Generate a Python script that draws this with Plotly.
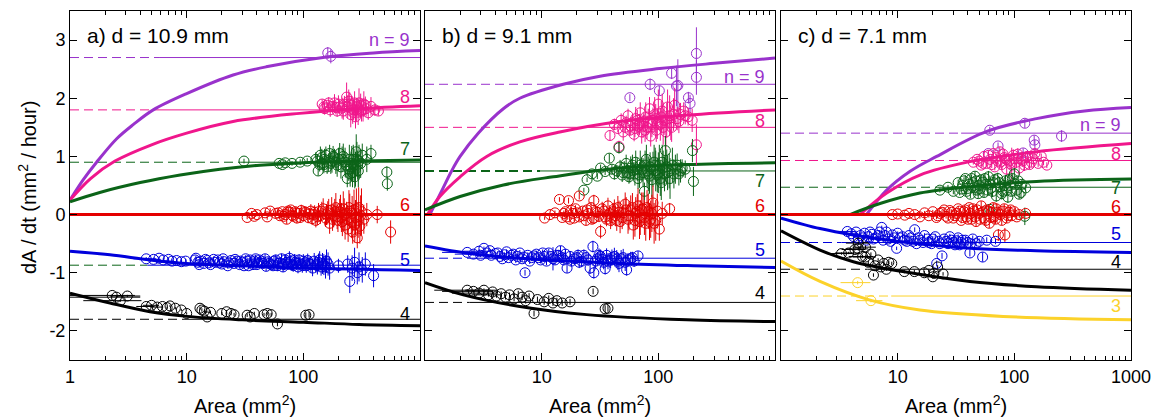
import plotly.graph_objects as go

# ---------------- colours per n ----------------
COL = {9: "#9932cc", 8: "#f0168c", 7: "#0b6418", 6: "#e40000", 5: "#0000dc", 4: "#000000", 3: "#fcd22a"}

# ---------------- fit curves (area, dA/dt) ----------------
F_a9 = [(1, 0.25), (1.3, 0.6), (1.69, 0.9), (2.5, 1.3), (3.5, 1.55), (5.17, 1.80), (10, 2.08), (25, 2.40), (48, 2.54), (158, 2.71), (400, 2.78), (1000, 2.82)]
F_a8 = [(1, 0.25), (1.5, 0.62), (2.43, 0.92), (5, 1.2), (10, 1.40), (25, 1.60), (93, 1.74), (300, 1.82), (1000, 1.87)]
F_a7 = [(1, 0.22), (1.8, 0.38), (4, 0.55), (8.8, 0.68), (19.3, 0.78), (42.5, 0.85), (100, 0.89), (300, 0.92), (1000, 0.94)]
F_a6 = [(1, 0.0), (1000, 0.0)]
F_a5 = [(1, -0.63), (2.2, -0.69), (4.85, -0.78), (10, -0.84), (30, -0.88), (100, -0.92), (1000, -0.96)]
F_a4 = [(1, -1.35), (2.2, -1.52), (4.85, -1.67), (10, -1.75), (30, -1.81), (100, -1.85), (300, -1.89), (1000, -1.91)]

F_b9 = [(1.1, 0.0), (1.4, 0.42), (1.69, 0.75), (2.0, 1.0), (2.86, 1.4), (4.69, 1.82), (6.5, 2.0), (15.3, 2.24), (31.6, 2.38), (103, 2.51), (300, 2.60), (1000, 2.69)]
F_b8 = [(1.05, 0.0), (1.34, 0.31), (2.0, 0.65), (3.38, 1.0), (6.5, 1.25), (14.3, 1.42), (46.7, 1.60), (176, 1.71), (1000, 1.80)]
F_b7 = [(1, 0.08), (2, 0.31), (4.7, 0.51), (12.6, 0.65), (46.7, 0.80), (176, 0.86), (1000, 0.89)]
F_b6 = [(1, 0.0), (1000, 0.0)]
F_b5 = [(1, -0.54), (2.43, -0.67), (6.5, -0.75), (46.7, -0.84), (200, -0.88), (1000, -0.91)]
F_b4 = [(1, -1.17), (2.13, -1.38), (6.5, -1.58), (24.3, -1.72), (176, -1.81), (1000, -1.84)]

F_c9 = [(5.4, 0.0), (8.05, 0.42), (12.7, 0.74), (21.6, 1.0), (58, 1.43), (155, 1.65), (400, 1.78), (1000, 1.84)]
F_c8 = [(4.75, 0.0), (8.05, 0.37), (15.5, 0.68), (41.6, 0.91), (155, 1.08), (1000, 1.22)]
F_c7 = [(3.9, 0.0), (7.06, 0.19), (15.5, 0.37), (41.6, 0.48), (155, 0.57), (1000, 0.61)]
F_c6 = [(1, 0.0), (1000, 0.0)]
F_c5 = [(1, -0.06), (2.16, -0.24), (4.17, -0.35), (11.1, -0.47), (41.6, -0.58), (155, -0.62), (1000, -0.65)]
F_c4 = [(1, -0.28), (2.16, -0.61), (4.17, -0.81), (11.1, -0.98), (41.6, -1.15), (155, -1.24), (1000, -1.30)]
F_c3 = [(1, -0.80), (2.16, -1.15), (5.8, -1.47), (15.5, -1.64), (80, -1.75), (1000, -1.81)]

# ---------------- reference levels: (n, level, area where dashed part ends) ----------------
L_a = [(9, 2.70, 5.9), (8, 1.80, 5.9), (7, 0.90, 29), (5, -0.87, 4.6), (4, -1.80, 9.5)]
L_b = [(9, 2.24, 9.5), (8, 1.50, 9.5), (7, 0.75, 9.7), (5, -0.75, 2.5), (4, -1.51, 2.4)]
L_c = [(9, 1.40, 35), (8, 0.93, 40), (7, 0.47, 22), (5, -0.48, 3.3), (4, -0.94, 5.5), (3, -1.40, 8.8)]

# ---------------- measured points: (area, dA/dt, error) ----------------
P_a9 = [(162, 2.78, 0.1), (172, 2.72, 0.12)]
P_a8 = [(145, 1.90, 0.08), (152, 1.82, 0.10), (160, 1.88, 0.06), (170, 1.80, 0.12), (178, 1.86, 0.09), (185, 1.92, 0.15),
        (195, 1.78, 0.10), (205, 1.85, 0.12), (215, 1.83, 0.18), (225, 1.90, 0.14), (235, 2.02, 0.25), (245, 1.95, 0.20),
        (255, 1.72, 0.22), (262, 1.88, 0.16), (270, 1.80, 0.18), (280, 1.68, 0.20), (290, 1.85, 0.15), (300, 1.92, 0.25),
        (315, 1.78, 0.18), (330, 1.90, 0.22), (345, 1.82, 0.14), (360, 1.75, 0.12), (380, 1.86, 0.16), (410, 1.80, 0.10), (440, 1.78, 0.08),
        (150, 1.85, 0.1), (165, 1.92, 0.1), (190, 1.84, 0.12), (200, 1.9, 0.15), (220, 1.78, 0.15), (240, 1.85, 0.2), (250, 1.9, 0.2),
        (265, 1.76, 0.2), (275, 1.92, 0.2), (285, 1.8, 0.2), (295, 1.76, 0.22), (310, 1.88, 0.2), (325, 1.8, 0.2), (340, 1.88, 0.15)]
P_a7 = [(31, 0.92, 0.04), (62, 0.88, 0.03), (66, 0.86, 0.04), (70, 0.89, 0.04), (80, 0.88, 0.04), (94, 0.90, 0.05), (108, 0.92, 0.05),
        (128, 0.95, 0.12), (134, 0.75, 0.08), (140, 1.02, 0.15), (146, 0.88, 0.12), (152, 0.95, 0.18), (160, 0.82, 0.12), (168, 1.05, 0.15),
        (176, 0.92, 0.2), (185, 0.98, 0.15), (195, 0.85, 0.2), (205, 1.05, 0.18), (215, 0.95, 0.22), (228, 0.9, 0.25), (238, 0.62, 0.15),
        (245, 0.78, 0.2), (252, 0.7, 0.22), (260, 0.88, 0.3), (268, 0.95, 0.25), (276, 0.65, 0.2), (284, 1.08, 0.3), (292, 0.85, 0.25),
        (300, 0.92, 0.28), (320, 1.02, 0.2), (350, 0.95, 0.22), (380, 1.05, 0.15), (520, 0.73, 0.1), (525, 0.53, 0.12),
        (132, 0.92, 0.12), (138, 0.86, 0.12), (144, 0.98, 0.15), (150, 0.86, 0.15), (156, 1.02, 0.15), (164, 0.9, 0.15),
        (172, 0.88, 0.18), (180, 1.0, 0.18), (190, 0.9, 0.2), (200, 0.95, 0.2), (210, 0.82, 0.2), (220, 1.0, 0.22), (232, 0.85, 0.22),
        (248, 0.95, 0.25), (256, 0.82, 0.25), (264, 0.72, 0.25), (272, 0.85, 0.28), (280, 0.78, 0.3), (288, 0.95, 0.3),
        (296, 0.75, 0.28), (310, 0.88, 0.25)]
P_a6 = [(33, -0.05, 0.03), (36, 0.02, 0.04), (38, -0.03, 0.04), (40, 0.0, 0.03), (47, 0.03, 0.04), (49, -0.04, 0.05), (52, 0.06, 0.05),
        (58, 0.02, 0.05), (63, -0.02, 0.06), (66, 0.05, 0.04), (70, 0.0, 0.06), (72, -0.08, 0.08), (75, 0.04, 0.07), (78, 0.08, 0.06),
        (82, -0.03, 0.08), (85, 0.05, 0.07), (88, -0.06, 0.09), (92, 0.02, 0.08), (96, 0.07, 0.1), (100, -0.02, 0.09), (105, 0.04, 0.08),
        (110, -0.05, 0.1), (116, 0.06, 0.12), (122, 0.0, 0.1), (128, -0.1, 0.12), (135, 0.05, 0.15), (140, -0.02, 0.14), (148, 0.1, 0.18),
        (155, -0.06, 0.15), (162, 0.03, 0.2), (168, -0.15, 0.18), (175, 0.08, 0.22), (182, -0.02, 0.2), (190, 0.12, 0.25), (198, -0.1, 0.2),
        (205, 0.05, 0.22), (212, -0.05, 0.25), (220, 0.1, 0.3), (228, -0.18, 0.25), (235, 0.02, 0.2), (242, -0.25, 0.22), (250, 0.06, 0.3),
        (258, -0.12, 0.28), (265, -0.3, 0.2), (272, 0.08, 0.35), (280, -0.05, 0.3), (290, -0.4, 0.18), (298, 0.12, 0.35), (305, -0.2, 0.3),
        (315, 0.05, 0.4), (330, -0.08, 0.25), (350, 0.0, 0.2), (430, 0.0, 0.15), (560, -0.3, 0.2),
        (61, 0.03, 0.05), (68, -0.03, 0.06), (74, 0.06, 0.07), (80, -0.01, 0.07), (87, 0.03, 0.08), (94, -0.05, 0.09), (102, 0.05, 0.09),
        (113, 0.01, 0.1), (119, -0.07, 0.11), (125, 0.04, 0.12), (132, -0.04, 0.14), (144, 0.06, 0.16), (158, 0.0, 0.18), (165, 0.07, 0.2),
        (178, -0.08, 0.2), (186, 0.05, 0.22), (195, -0.03, 0.22), (208, 0.09, 0.25), (216, -0.12, 0.25), (224, 0.0, 0.28),
        (238, -0.08, 0.25), (246, 0.12, 0.3), (262, 0.02, 0.3), (276, -0.18, 0.3), (285, 0.1, 0.35), (295, -0.1, 0.3), (310, -0.02, 0.35)]
P_a5 = [(4.5, -0.76, 0.03), (5.2, -0.77, 0.03), (5.8, -0.75, 0.03), (6.3, -0.78, 0.03), (7.0, -0.77, 0.03), (7.5, -0.8, 0.03),
        (8.2, -0.79, 0.03), (9.0, -0.81, 0.03), (9.8, -0.8, 0.04), (11.8, -0.78, 0.04), (12.5, -0.82, 0.04), (13.2, -0.8, 0.04),
        (14, -0.84, 0.04), (15, -0.79, 0.04), (16, -0.86, 0.04), (17.5, -0.82, 0.05), (18.5, -0.78, 0.05), (20, -0.85, 0.05),
        (21, -0.81, 0.05), (22.5, -0.88, 0.05), (24, -0.79, 0.05), (25.5, -0.84, 0.05), (27, -0.8, 0.06), (28.5, -0.86, 0.06),
        (30, -0.82, 0.06), (32, -0.76, 0.06), (34, -0.88, 0.06), (36, -0.83, 0.06), (38, -0.8, 0.07), (40, -0.86, 0.07), (42, -0.78, 0.07),
        (45, -0.84, 0.07), (48, -0.89, 0.08), (50, -0.81, 0.08), (53, -0.86, 0.08), (56, -0.8, 0.08), (60, -0.88, 0.09), (63, -0.83, 0.09),
        (67, -0.9, 0.09), (70, -0.78, 0.1), (74, -0.85, 0.1), (78, -0.81, 0.12), (82, -0.88, 0.1), (86, -0.82, 0.1), (90, -0.9, 0.11),
        (95, -0.85, 0.1), (100, -0.8, 0.12), (106, -0.88, 0.12), (112, -0.84, 0.12), (120, -0.92, 0.14), (128, -0.86, 0.14),
        (135, -0.82, 0.15), (142, -0.9, 0.15), (150, -0.86, 0.18), (158, -0.8, 0.2), (168, -0.92, 0.2), (200, -0.88, 0.12),
        (240, -0.85, 0.15), (250, -1.15, 0.2), (262, -0.92, 0.22), (275, -0.82, 0.25), (290, -1.0, 0.2), (300, -0.9, 0.25),
        (320, -0.95, 0.22), (340, -0.85, 0.2), (400, -1.05, 0.2),
        (12, -0.75, 0.04), (12.8, -0.86, 0.04), (14.5, -0.77, 0.04), (15.5, -0.83, 0.04), (17, -0.77, 0.05), (19, -0.83, 0.05),
        (20.5, -0.76, 0.05), (23, -0.83, 0.05), (26, -0.77, 0.05), (29, -0.8, 0.06), (31, -0.88, 0.06), (33, -0.8, 0.06),
        (35, -0.78, 0.06), (37, -0.86, 0.07), (39, -0.76, 0.07), (41, -0.83, 0.07), (44, -0.8, 0.07), (47, -0.76, 0.08),
        (51, -0.84, 0.08), (55, -0.88, 0.08), (58, -0.78, 0.09), (61, -0.84, 0.09), (65, -0.76, 0.09), (68, -0.86, 0.1),
        (72, -0.82, 0.1), (76, -0.75, 0.12), (80, -0.86, 0.1), (84, -0.78, 0.1), (88, -0.84, 0.1), (92, -0.78, 0.1),
        (98, -0.88, 0.12), (103, -0.83, 0.12), (109, -0.79, 0.12), (116, -0.86, 0.14), (124, -0.8, 0.14), (132, -0.88, 0.15),
        (138, -0.78, 0.15), (146, -0.84, 0.18), (155, -0.9, 0.2), (163, -0.85, 0.2)]
X_a5 = [1.0, 0.8]
P_a4 = [(2.3, -1.39, 0.02), (2.5, -1.42, 0.02), (2.7, -1.48, 0.02), (3.1, -1.40, 0.02), (4.5, -1.58, 0.02), (5.0, -1.56, 0.02),
        (5.6, -1.59, 0.02), (6.2, -1.58, 0.02), (6.8, -1.60, 0.02), (7.2, -1.57, 0.02), (8.0, -1.61, 0.02), (9.0, -1.64, 0.02),
        (10, -1.70, 0.02), (13, -1.61, 0.03), (13.5, -1.64, 0.03), (14.2, -1.66, 0.03), (15, -1.76, 0.03), (16, -1.68, 0.03),
        (20, -1.70, 0.03), (22, -1.67, 0.03), (24, -1.70, 0.03), (25.5, -1.72, 0.03), (33, -1.73, 0.03), (35, -1.76, 0.03),
        (38, -1.70, 0.03), (46, -1.72, 0.03), (49, -1.70, 0.03), (53, -1.72, 0.03), (60, -1.88, 0.04), (105, -1.73, 0.05), (112, -1.72, 0.05)]
X_a4 = [1.3, 1.5, 1.4, 0.9, 0.8, 0.8, 0.7]

P_b9 = [(57, 2.01, 0.06), (85, 2.24, 0.1), (102, 2.13, 0.08), (130, 2.43, 0.1), (143, 2.21, 0.35), (147, 2.22, 0.45),
        (181, 2.01, 0.1), (187, 1.91, 0.15), (212, 2.77, 0.45), (212, 2.36, 0.3)]
P_b8 = [(38.5, 1.36, 0.08), (42, 1.55, 0.1), (45, 1.48, 0.06), (46, 1.17, 0.1), (48, 1.62, 0.12), (50, 1.42, 0.15), (52, 1.5, 0.1),
        (55, 1.7, 0.12), (57, 1.45, 0.08), (60, 1.58, 0.15), (62, 1.38, 0.12), (64, 1.65, 0.2), (67, 1.52, 0.15), (70, 1.75, 0.18),
        (72, 1.42, 0.2), (75, 1.6, 0.15), (78, 1.68, 0.25), (80, 1.5, 0.2), (84, 1.82, 0.2), (86, 1.35, 0.18), (90, 1.62, 0.22),
        (93, 1.72, 0.3), (96, 1.45, 0.2), (100, 1.9, 0.25), (104, 1.55, 0.28), (108, 1.78, 0.3), (112, 1.62, 0.25), (116, 1.42, 0.3),
        (120, 1.85, 0.3), (125, 1.7, 0.35), (130, 1.5, 0.25), (138, 1.88, 0.3), (145, 1.65, 0.2), (155, 1.72, 0.2), (165, 1.78, 0.15),
        (180, 1.68, 0.15), (195, 1.62, 0.2), (212, 1.2, 0.35),
        (53, 1.58, 0.12), (58, 1.52, 0.15), (63, 1.48, 0.15), (66, 1.62, 0.18), (69, 1.55, 0.18), (74, 1.52, 0.2), (77, 1.45, 0.2),
        (82, 1.6, 0.22), (88, 1.55, 0.22), (95, 1.65, 0.25), (98, 1.55, 0.25), (106, 1.68, 0.28), (110, 1.5, 0.3), (118, 1.62, 0.3),
        (128, 1.58, 0.3), (135, 1.72, 0.28), (150, 1.6, 0.2), (170, 1.7, 0.15)]
P_b7 = [(23, 0.42, 0.04), (24.5, 0.6, 0.04), (27, 0.7, 0.05), (30, 0.66, 0.05), (32, 0.8, 0.06), (35, 0.74, 0.06), (38, 0.97, 0.08),
        (40, 0.78, 0.08), (42, 0.7, 0.1), (46, 1.15, 0.1), (47, 0.82, 0.12), (50, 0.72, 0.1), (53, 0.88, 0.15), (56, 0.65, 0.12),
        (58, 0.8, 0.2), (61, 0.75, 0.15), (64, 0.9, 0.2), (67, 0.62, 0.18), (70, 0.85, 0.25), (72, 0.78, 0.2), (76, 0.4, 0.15),
        (79, 0.95, 0.25), (82, 0.7, 0.3), (85, 0.82, 0.25), (88, 0.6, 0.3), (92, 0.9, 0.3), (95, 0.75, 0.35), (98, 0.68, 0.3),
        (102, 0.85, 0.35), (106, 0.55, 0.3), (110, 0.8, 0.3), (115, 1.1, 0.25), (120, 0.72, 0.3), (126, 0.62, 0.35), (132, 0.85, 0.3),
        (140, 0.78, 0.25), (150, 0.7, 0.2), (160, 0.8, 0.15), (196, 1.1, 0.2), (200, 0.57, 0.25),
        (44, 0.75, 0.1), (49, 0.68, 0.12), (51, 0.8, 0.12), (54, 0.72, 0.14), (57, 0.7, 0.15), (60, 0.85, 0.18), (63, 0.7, 0.2),
        (66, 0.78, 0.2), (69, 0.68, 0.22), (74, 0.72, 0.25), (77, 0.85, 0.25), (80, 0.75, 0.28), (84, 0.66, 0.3), (90, 0.78, 0.3),
        (94, 0.85, 0.3), (100, 0.72, 0.35), (104, 0.62, 0.3), (108, 0.9, 0.3), (113, 0.7, 0.3), (118, 0.82, 0.3), (124, 0.75, 0.3),
        (136, 0.7, 0.25), (145, 0.85, 0.2), (155, 0.75, 0.2), (170, 0.78, 0.15)]
P_b6 = [(10.6, -0.06, 0.03), (11.8, 0.0, 0.03), (13, 0.03, 0.04), (14.2, 0.26, 0.04), (15, -0.05, 0.05), (16, 0.05, 0.05),
        (17, 0.24, 0.05), (17.5, -0.08, 0.06), (18.5, 0.02, 0.06), (19.5, 0.1, 0.06), (21, 0.32, 0.06), (21, -0.04, 0.07),
        (22.5, 0.06, 0.07), (24, -0.1, 0.08), (25, 0.02, 0.08), (26.5, 0.12, 0.08), (28, 0.24, 0.1), (28, -0.06, 0.1), (30, 0.04, 0.1),
        (32, -0.29, 0.12), (33, 0.1, 0.12), (35, -0.04, 0.12), (37, 0.15, 0.14), (39, -0.1, 0.15), (41, 0.05, 0.15), (43, -0.02, 0.18),
        (45, 0.12, 0.2), (47, -0.12, 0.2), (50, 0.03, 0.22), (52, 0.18, 0.2), (55, -0.08, 0.25), (58, 0.08, 0.25), (61, -0.18, 0.25),
        (64, 0.02, 0.28), (67, 0.15, 0.3), (70, -0.05, 0.3), (74, 0.1, 0.28), (78, -0.15, 0.3), (82, 0.05, 0.3), (86, -0.08, 0.32),
        (90, 0.2, 0.3), (95, -0.1, 0.35), (102, -0.25, 0.2), (108, 0.02, 0.2), (125, 0.1, 0.1),
        (15.5, 0.02, 0.05), (16.5, -0.04, 0.05), (18, 0.07, 0.06), (19, -0.06, 0.06), (20, 0.03, 0.07), (23, -0.02, 0.07),
        (24.5, 0.08, 0.08), (27, -0.08, 0.08), (29, 0.05, 0.1), (31, -0.03, 0.1), (34, 0.06, 0.12), (36, -0.08, 0.12), (38, 0.02, 0.14),
        (40, -0.05, 0.15), (42, 0.1, 0.16), (44, -0.1, 0.18), (46, 0.04, 0.2), (49, -0.05, 0.2), (53, 0.08, 0.22), (56, -0.02, 0.25),
        (60, 0.12, 0.25), (63, -0.1, 0.28), (66, 0.05, 0.3), (69, -0.12, 0.3), (72, 0.08, 0.3), (76, -0.05, 0.3), (80, 0.12, 0.3),
        (84, -0.12, 0.32), (88, 0.02, 0.32), (92, -0.15, 0.35), (98, 0.06, 0.3)]
P_b5 = [(2.3, -0.65, 0.02), (2.6, -0.68, 0.02), (2.9, -0.63, 0.03), (3.2, -0.58, 0.03), (3.4, -0.66, 0.03), (3.7, -0.70, 0.03),
        (4.0, -0.67, 0.03), (4.4, -0.72, 0.04), (4.8, -0.69, 0.04), (5.2, -0.74, 0.04), (5.7, -0.68, 0.04), (6.2, -0.72, 0.05),
        (6.8, -0.76, 0.05), (7.2, -1.0, 0.05), (7.6, -0.70, 0.05), (8.2, -0.74, 0.06), (9.0, -0.68, 0.06), (9.8, -0.78, 0.06),
        (10.5, -0.72, 0.06), (11.5, -0.66, 0.07), (12.5, -0.76, 0.2), (13.5, -0.70, 0.07), (14.5, -0.62, 0.08), (15.5, -0.78, 0.08),
        (16.5, -0.92, 0.08), (17.5, -0.72, 0.08), (19, -0.76, 0.09), (20.5, -0.70, 0.1), (22, -0.80, 0.1), (24, -0.74, 0.1),
        (26, -0.92, 0.1), (27.5, -0.55, 0.1), (28, -1.0, 0.1), (30, -0.76, 0.12), (32, -0.72, 0.12), (34, -0.82, 0.12),
        (35, -0.93, 0.1), (36, -0.7, 0.12), (39, -0.78, 0.14), (42, -0.72, 0.15), (45, -0.8, 0.15), (48, -0.76, 0.15),
        (52, -0.82, 0.15), (53.5, -0.95, 0.1), (58, -0.76, 0.12), (62, -0.8, 0.1), (67, -0.71, 0.08),
        (3.0, -0.7, 0.03), (3.6, -0.62, 0.03), (4.2, -0.66, 0.03), (4.6, -0.76, 0.04), (5.0, -0.64, 0.04), (5.5, -0.7, 0.04),
        (6.0, -0.78, 0.05), (6.5, -0.66, 0.05), (7.0, -0.73, 0.05), (7.9, -0.8, 0.05), (8.6, -0.71, 0.06), (9.4, -0.74, 0.06),
        (10.2, -0.66, 0.06), (11, -0.8, 0.07), (12, -0.72, 0.07), (13, -0.78, 0.08), (14, -0.7, 0.08), (15, -0.74, 0.08),
        (16, -0.68, 0.08), (18, -0.8, 0.09), (20, -0.74, 0.1), (21, -0.82, 0.1), (23, -0.7, 0.1), (25, -0.78, 0.1), (29, -0.8, 0.12),
        (31, -0.7, 0.12), (33, -0.77, 0.12), (37, -0.8, 0.14), (40, -0.74, 0.14), (44, -0.76, 0.15), (46, -0.84, 0.15),
        (50, -0.74, 0.15), (55, -0.78, 0.12), (60, -0.74, 0.1)]
X_b5 = [0.9, 0.8, 0.8]
P_b4 = [(2.3, -1.3, 0.02), (2.6, -1.32, 0.02), (2.9, -1.35, 0.03), (3.2, -1.3, 0.03), (3.5, -1.38, 0.03), (3.8, -1.33, 0.03),
        (4.1, -1.4, 0.03), (4.5, -1.36, 0.04), (4.9, -1.42, 0.04), (5.3, -1.38, 0.04), (5.8, -1.45, 0.04), (6.3, -1.36, 0.05),
        (6.8, -1.42, 0.05), (7.3, -1.48, 0.05), (7.8, -1.4, 0.05), (8.6, -1.7, 0.05), (9.2, -1.46, 0.05), (10.5, -1.5, 0.05),
        (11.5, -1.44, 0.05), (12.5, -1.52, 0.05), (13.5, -1.48, 0.05), (15, -1.52, 0.05), (17.5, -1.5, 0.05), (27.6, -1.32, 0.05),
        (35, -1.62, 0.06), (37, -1.61, 0.06)]
X_b4 = [1.1, 1.2, 1.2, 1.0, 1.0]

P_c9 = [(59.8, 1.05, 0.06), (61.6, 1.45, 0.06), (72.5, 1.18, 0.06), (119, 1.06, 0.08), (123, 1.57, 0.08), (148, 1.28, 0.08),
        (150, 1.2, 0.08), (254, 1.35, 0.1)]
P_c8 = [(44.5, 0.9, 0.04), (48, 0.95, 0.05), (52, 0.85, 0.05), (55, 1.0, 0.06), (58, 0.88, 0.05), (62, 0.95, 0.06), (66, 1.05, 0.07),
        (68, 0.82, 0.06), (72, 0.92, 0.07), (75, 1.08, 0.08), (78, 0.86, 0.08), (82, 0.98, 0.08), (86, 0.78, 0.1), (90, 0.92, 0.1),
        (95, 0.85, 0.3), (98, 1.02, 0.1), (104, 0.9, 0.1), (110, 0.8, 0.12), (115, 0.95, 0.1), (122, 0.85, 0.1), (130, 1.0, 0.1),
        (140, 0.9, 0.08), (150, 1.05, 0.08), (160, 0.88, 0.06), (178, 0.9, 0.05), (190, 0.85, 0.05),
        (50, 0.92, 0.05), (54, 0.88, 0.05), (60, 1.02, 0.06), (64, 0.86, 0.06), (70, 0.98, 0.07), (76, 0.9, 0.08), (80, 1.04, 0.08),
        (85, 0.95, 0.1), (92, 0.88, 0.1), (100, 0.96, 0.1), (107, 1.04, 0.1), (118, 0.92, 0.1), (125, 0.98, 0.1), (135, 0.86, 0.08),
        (145, 0.96, 0.08), (170, 1.0, 0.05)]
P_c7 = [(23, 0.42, 0.04), (27, 0.47, 0.04), (30, 0.4, 0.05), (33, 0.55, 0.05), (34, 0.38, 0.05), (36, 0.5, 0.06), (38, 0.62, 0.06),
        (40, 0.45, 0.06), (42, 0.35, 0.07), (44, 0.55, 0.07), (46, 0.66, 0.08), (48, 0.42, 0.08), (50, 0.5, 0.08), (52, 0.6, 0.08),
        (55, 0.38, 0.08), (57, 0.52, 0.08), (60, 0.65, 0.1), (61.6, 0.09, 0.05), (63, 0.45, 0.1), (66, 0.55, 0.1), (70, 0.32, 0.1),
        (72, 0.62, 0.1), (76, 0.48, 0.1), (80, 0.4, 0.1), (84, 0.58, 0.1), (88, 0.3, 0.1), (92, 0.5, 0.1), (96, 0.62, 0.08),
        (100, 0.7, 0.1), (105, 0.42, 0.08), (110, 0.35, 0.08), (116, 0.52, 0.08), (123, -0.03, 0.15), (125, 0.46, 0.06),
        (35, 0.44, 0.05), (37, 0.58, 0.06), (39, 0.4, 0.06), (41, 0.52, 0.06), (43, 0.62, 0.07), (45, 0.46, 0.07), (47, 0.58, 0.08),
        (49, 0.36, 0.08), (51, 0.44, 0.08), (54, 0.56, 0.08), (56, 0.62, 0.08), (59, 0.42, 0.1), (62, 0.52, 0.1), (65, 0.4, 0.1),
        (68, 0.6, 0.1), (74, 0.55, 0.1), (78, 0.36, 0.1), (82, 0.5, 0.1), (86, 0.42, 0.1), (90, 0.6, 0.1), (94, 0.4, 0.08),
        (102, 0.52, 0.08), (108, 0.58, 0.08), (114, 0.38, 0.08)]
P_c6 = [(9.0, 0.0, 0.02), (10, 0.01, 0.02), (11.5, -0.01, 0.02), (12.5, 0.02, 0.02), (14, 0.0, 0.03), (15.5, -0.04, 0.03),
        (17, 0.03, 0.03), (18.5, -0.02, 0.03), (20, 0.05, 0.03), (21.5, -0.05, 0.03), (23, 0.02, 0.04), (25, 0.08, 0.04),
        (27, -0.06, 0.04), (29, 0.04, 0.05), (31, -0.02, 0.05), (33, 0.1, 0.05), (35, -0.1, 0.05), (37, 0.05, 0.06), (39, -0.04, 0.06),
        (41, 0.12, 0.06), (43, -0.08, 0.06), (45, 0.06, 0.07), (47, -0.12, 0.08), (50, 0.02, 0.07), (52, 0.15, 0.08), (55, -0.06, 0.08),
        (58, 0.08, 0.08), (61, -0.15, 0.08), (64, 0.04, 0.08), (67, -0.04, 0.08), (70, 0.1, 0.08), (73, -0.35, 0.1), (76, 0.0, 0.08),
        (80, 0.06, 0.08), (83, -0.35, 0.12), (86, -0.06, 0.08), (90, 0.04, 0.07), (95, -0.02, 0.06), (100, 0.05, 0.06), (110, 0.0, 0.05),
        (125, 0.02, 0.04),
        (22, -0.02, 0.04), (24, 0.04, 0.04), (26, -0.03, 0.04), (28, 0.07, 0.05), (30, -0.06, 0.05), (32, 0.02, 0.05), (34, 0.06, 0.05),
        (36, -0.05, 0.06), (38, 0.08, 0.06), (40, -0.08, 0.06), (42, 0.02, 0.06), (44, 0.1, 0.07), (46, -0.04, 0.07), (48, 0.08, 0.07),
        (51, -0.08, 0.07), (54, 0.05, 0.08), (57, -0.1, 0.08), (60, 0.06, 0.08), (63, -0.05, 0.08), (66, 0.12, 0.08), (69, -0.08, 0.08),
        (72, 0.04, 0.08), (78, -0.1, 0.08), (82, 0.1, 0.08), (88, -0.02, 0.07), (93, 0.08, 0.07), (105, -0.04, 0.05)]
P_c5 = [(3.7, -0.29, 0.02), (4.0, -0.33, 0.02), (4.4, -0.3, 0.02), (4.8, -0.36, 0.02), (5.2, -0.32, 0.02), (5.6, -0.38, 0.02),
        (6.0, -0.34, 0.02), (6.5, -0.4, 0.03), (7.0, -0.3, 0.03), (7.3, -0.22, 0.03), (7.8, -0.36, 0.03), (8.3, -0.42, 0.03),
        (9.0, -0.35, 0.03), (9.8, -0.58, 0.03), (10.5, -0.4, 0.03), (11.5, -0.44, 0.03), (12.5, -0.36, 0.03), (13.5, -0.46, 0.04),
        (14, -0.26, 0.04), (15, -0.4, 0.04), (16.5, -0.48, 0.04), (18, -0.42, 0.04), (19.5, -0.5, 0.04), (21, -0.38, 0.05),
        (21.6, -0.84, 0.05), (22.5, -0.46, 0.05), (24, -0.71, 0.05), (25, -0.42, 0.05), (27, -0.5, 0.05), (29, -0.44, 0.05),
        (31, -0.52, 0.06), (33, -0.4, 0.06), (35, -0.48, 0.06), (38, -0.44, 0.06), (41.6, -0.66, 0.06), (42, -0.5, 0.06),
        (47, -0.5, 0.05), (53.5, -0.73, 0.08), (58, -0.44, 0.05), (69, -0.46, 0.05),
        (4.2, -0.38, 0.02), (4.6, -0.42, 0.02), (5.0, -0.4, 0.02), (5.4, -0.44, 0.02), (5.8, -0.3, 0.02), (6.2, -0.42, 0.03),
        (6.8, -0.36, 0.03), (7.5, -0.44, 0.03), (8.0, -0.3, 0.03), (8.7, -0.46, 0.03), (9.4, -0.4, 0.03), (10, -0.32, 0.03),
        (11, -0.38, 0.03), (12, -0.46, 0.03), (13, -0.4, 0.04), (14.5, -0.5, 0.04), (15.5, -0.44, 0.04), (17, -0.36, 0.04),
        (18.5, -0.48, 0.04), (20, -0.42, 0.05), (23, -0.5, 0.05), (26, -0.46, 0.05), (28, -0.38, 0.05), (30, -0.48, 0.05),
        (32, -0.45, 0.06), (34, -0.52, 0.06), (36, -0.44, 0.06), (40, -0.48, 0.06), (44, -0.42, 0.06), (50, -0.46, 0.05)]
X_c5 = [0.6, 0.5]
P_c4 = [(3.3, -0.67, 0.02), (3.8, -0.66, 0.02), (4.3, -0.6, 0.02), (4.6, -0.49, 0.03), (4.6, -0.59, 0.03), (5.0, -0.72, 0.03),
        (5.3, -0.56, 0.03), (5.3, -0.73, 0.03), (5.6, -0.82, 0.03), (5.9, -0.68, 0.03), (6.2, -1.04, 0.03), (6.4, -0.88, 0.03),
        (6.8, -0.78, 0.03), (7.2, -0.9, 0.03), (7.6, -0.84, 0.03), (8.0, -0.94, 0.03), (8.4, -0.82, 0.03), (8.9, -0.84, 0.03),
        (11.4, -0.98, 0.03), (13.9, -0.98, 0.03), (16.9, -1.0, 0.03), (18.5, -0.96, 0.03), (20.5, -1.01, 0.03), (20, -1.07, 0.03),
        (22, -0.9, 0.03), (24.5, -1.02, 0.03)]
X_c4 = [0.8, 0.9, 1.0, 1.0, 1.0, 1.2, 1.2, 1.2]
P_c3 = [(4.54, -1.17, 0.03), (5.9, -1.48, 0.03)]
X_c3 = [1.3, 1.5]

# ---------------- panel texts ----------------
TITLES = ["a) d = 10.9 mm", "b) d = 9.1 mm", "c) d = 7.1 mm"]
XTICKVALS = [[1, 10, 100], [10, 100], [10, 100, 1000]]
XTICKTEXT = [["1", "10", "100"], ["10", "100"], ["10", "100", "1000"]]
YTICKS = [-2, -1, 0, 1, 2, 3]
YTEXT = ["-2", "-1", "0", "1", "2", "3"]
LABEL_TXT = {9: "n = 9", 8: "8", 7: "7", 6: "6", 5: "5", 4: "4", 3: "3"}

FITS = [
    {9: F_a9, 8: F_a8, 7: F_a7, 6: F_a6, 5: F_a5, 4: F_a4},
    {9: F_b9, 8: F_b8, 7: F_b7, 6: F_b6, 5: F_b5, 4: F_b4},
    {9: F_c9, 8: F_c8, 7: F_c7, 6: F_c6, 5: F_c5, 4: F_c4, 3: F_c3},
]
LEVELS = [L_a, L_b, L_c]
POINTS = [
    {9: (P_a9, []), 8: (P_a8, []), 7: (P_a7, []), 6: (P_a6, []), 5: (P_a5, X_a5), 4: (P_a4, X_a4)},
    {9: (P_b9, []), 8: (P_b8, []), 7: (P_b7, []), 6: (P_b6, []), 5: (P_b5, X_b5), 4: (P_b4, X_b4)},
    {9: (P_c9, []), 8: (P_c8, []), 7: (P_c7, []), 6: (P_c6, []), 5: (P_c5, X_c5), 4: (P_c4, X_c4), 3: (P_c3, X_c3)},
]
# label heights (positions) per panel
LABEL_Y = [
    {9: 3.0, 8: 2.02, 7: 1.12, 6: 0.17, 5: -0.78, 4: -1.71},
    {9: 2.37, 8: 1.61, 7: 0.58, 6: 0.15, 5: -0.61, 4: -1.35},
    {9: 1.54, 8: 1.04, 7: 0.45, 6: 0.13, 5: -0.33, 4: -0.82, 3: -1.57},
]

# ---------------- layout geometry (window pixels) ----------------
W, H = 1158, 417


def px(x):
    return x / W


def py(y):
    return (H - y) / H


XDOM = [(70, 420), (425, 775), (781, 1131)]
YDOM = (py(360), py(11))
FONT = "Liberation Sans, Arial, Helvetica, sans-serif"
DASH_COLOR_OVERRIDE = {(0, 5): COL[7]}

fig = go.Figure()

for p in range(3):
    xa = "x" if p == 0 else f"x{p+1}"
    ya = "y" if p == 0 else f"y{p+1}"
    for (n, lev, dend) in LEVELS[p]:
        dcol = DASH_COLOR_OVERRIDE.get((p, n), COL[n])
        dw = 2 if (p == 1 and n == 7) else 1
        fig.add_trace(go.Scatter(x=[1, dend], y=[lev, lev], mode="lines", xaxis=xa, yaxis=ya,
                                 line=dict(color=dcol, width=dw, dash="9px,5px"), showlegend=False, hoverinfo="skip"))
        fig.add_trace(go.Scatter(x=[dend, 1000], y=[lev, lev], mode="lines", xaxis=xa, yaxis=ya,
                                 line=dict(color=COL[n], width=1), showlegend=False, hoverinfo="skip"))
    for n, pts in FITS[p].items():
        fig.add_trace(go.Scatter(x=[a for a, _ in pts], y=[v for _, v in pts], mode="lines", xaxis=xa, yaxis=ya,
                                 line=dict(color=COL[n], width=3, shape="spline", smoothing=1.0),
                                 showlegend=False, hoverinfo="skip"))
    for n, (pts, xe) in POINTS[p].items():
        xs = [a for a, _, _ in pts]
        ys = [v for _, v, _ in pts]
        es = [e for _, _, e in pts]
        kw = {}
        if xe:
            xerr = list(xe) + [0] * (len(pts) - len(xe))
            kw["error_x"] = dict(type="data", array=xerr, symmetric=True, thickness=1, width=0, color=COL[n])
        fig.add_trace(go.Scatter(x=xs, y=ys, mode="markers", xaxis=xa, yaxis=ya,
                                 marker=dict(symbol="circle-open", size=10, color=COL[n], line=dict(width=1, color=COL[n])),
                                 error_y=dict(type="data", array=es, thickness=1, width=0, color=COL[n]),
                                 showlegend=False, hoverinfo="skip", **kw))
    for n, yv in LABEL_Y[p].items():
        fig.add_annotation(x=2.93, y=yv, xref=xa, yref=ya, text=LABEL_TXT[n], showarrow=False,
                           xanchor="right", yanchor="middle", font=dict(size=18, color=COL[n], family=FONT))
    x0, x1 = XDOM[p]
    fig.add_annotation(x=px(x0 + 15), y=py(35), xref="paper", yref="paper", text=TITLES[p], showarrow=False,
                       xanchor="left", yanchor="middle", font=dict(size=21, color="black", family=FONT))
    fig.add_annotation(x=px((x0 + x1) / 2), y=py(404), xref="paper", yref="paper", text="Area (mm<sup>2</sup>)",
                       showarrow=False, xanchor="center", yanchor="middle", font=dict(size=20, color="black", family=FONT))

fig.add_annotation(x=px(27), y=py(188), xref="paper", yref="paper", text="dA / dt (mm<sup>2</sup> / hour)",
                   textangle=-90, showarrow=False, xanchor="center", yanchor="middle",
                   font=dict(size=20, color="black", family=FONT))

minor_vals = [m * 10 ** k for k in range(3) for m in range(2, 10)]
layout = dict(width=W, height=H, autosize=False, margin=dict(l=0, r=0, t=0, b=0, autoexpand=False),
              paper_bgcolor="white", plot_bgcolor="white",
              font=dict(family=FONT, color="black"), showlegend=False)
for p in range(3):
    xk = "xaxis" if p == 0 else f"xaxis{p+1}"
    yk = "yaxis" if p == 0 else f"yaxis{p+1}"
    x0, x1 = XDOM[p]
    layout[xk] = dict(domain=[px(x0), px(x1)], anchor="y" if p == 0 else f"y{p+1}", type="log", range=[0, 3],
                      showline=True, linecolor="black", linewidth=1, mirror="allticks", ticks="inside", ticklen=7,
                      tickwidth=1, tickcolor="black", showgrid=False, zeroline=False, automargin=False,
                      tickmode="array", tickvals=XTICKVALS[p], ticktext=XTICKTEXT[p], tickfont=dict(size=18, family=FONT),
                      minor=dict(ticks="inside", ticklen=4, tickwidth=1, tickcolor="black", tickmode="array",
                                 tickvals=minor_vals, showgrid=False))
    layout[yk] = dict(domain=list(YDOM), anchor="x" if p == 0 else f"x{p+1}", range=[-2.5, 3.5],
                      showline=True, linecolor="black", linewidth=1, mirror="allticks", ticks="inside", ticklen=7,
                      tickwidth=1, tickcolor="black", showgrid=False, zeroline=False, automargin=False,
                      tickmode="array", tickvals=YTICKS, ticktext=YTEXT, tickfont=dict(size=18, family=FONT),
                      showticklabels=(p == 0))
    if p > 0:
        layout[yk]["matches"] = "y"
fig.update_layout(**layout)

fig.write_html("out.html", config={"displayModeBar": False, "responsive": False},
               post_script="document.body.style.margin='0';document.body.style.overflow='hidden';")
